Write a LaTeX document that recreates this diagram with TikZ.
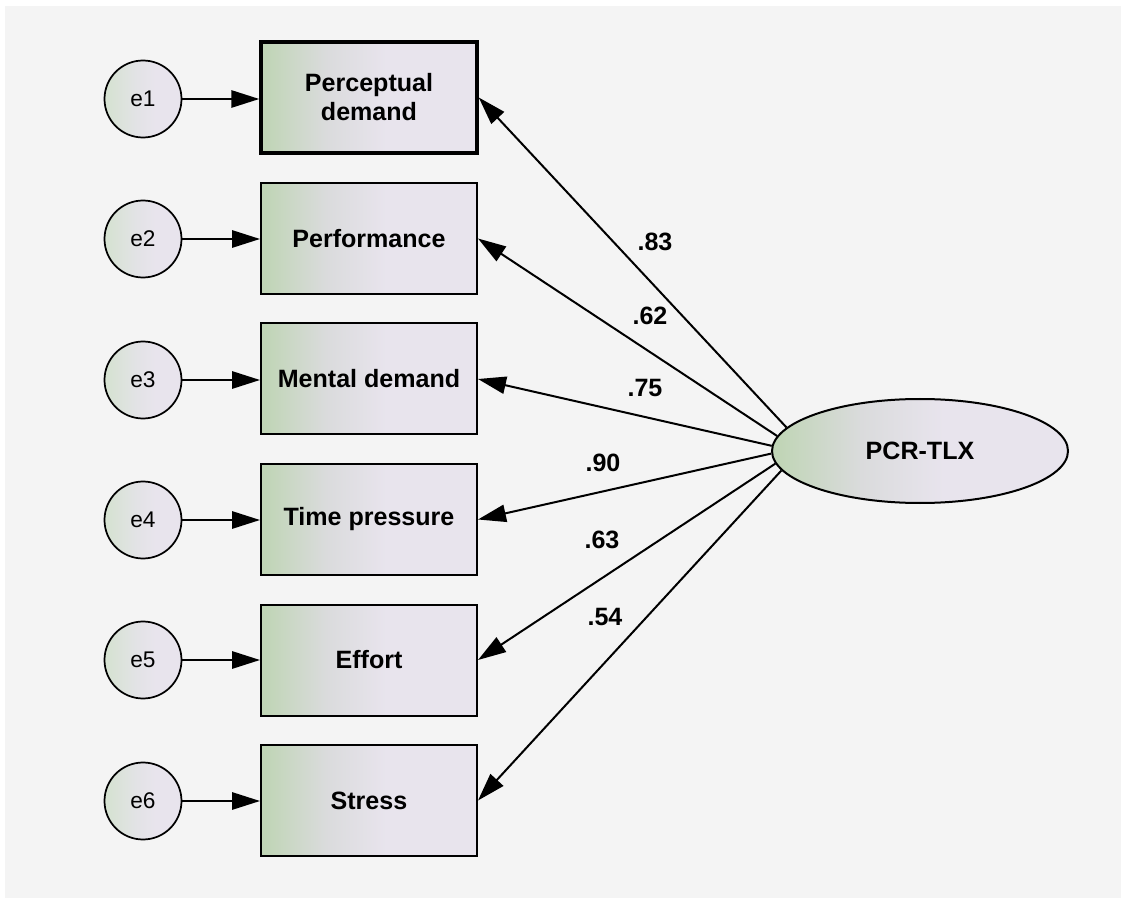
\documentclass[tikz,border=0pt]{standalone}
\usepackage{fontspec}
\setmainfont{Liberation Sans}
\usetikzlibrary{arrows.meta,shapes.geometric}
\definecolor{bgc}{RGB}{244,244,244}
\definecolor{gA}{RGB}{192,213,182}
\definecolor{gB}{RGB}{218,219,220}
\definecolor{gC}{RGB}{232,228,237}
\definecolor{cA}{RGB}{214,226,210}
\definecolor{cB}{RGB}{226,227,229}
\pgfdeclarehorizontalshading{semshade}{100bp}{color(0bp)=(gA); color(26bp)=(gA); color(40bp)=(gB); color(54bp)=(gC); color(100bp)=(gC)}
\pgfdeclarehorizontalshading{circshade}{100bp}{color(0bp)=(cA); color(27bp)=(cA); color(45bp)=(cB); color(58bp)=(gC); color(100bp)=(gC)}
\tikzset{
  obs/.style={draw=black, line width=1.5pt, shading=semshade,
    minimum width=162pt, minimum height=83.25pt, inner sep=0pt, align=center,
    font=\bfseries\fontsize{18.8}{21.75}\selectfont},
  err/.style={circle, draw=black, line width=1.3pt, shading=circshade,
    minimum size=57.75pt, inner sep=0pt, font=\fontsize{17}{19}\selectfont},
  lat/.style={ellipse, draw=black, line width=1.5pt, shading=semshade,
    minimum width=222pt, minimum height=78pt, inner sep=0pt,
    font=\bfseries\fontsize{18.8}{21.75}\selectfont},
  arr/.style={line width=1.5pt, -{Triangle[length=21pt,width=13pt]}},
  lbl/.style={font=\bfseries\fontsize{18.8}{21.75}\selectfont, inner sep=0pt}
}
\begin{document}
\begin{tikzpicture}[x=0.75pt,y=-0.75pt]
\useasboundingbox (0,0) rectangle (1121,898);
\fill[bgc] (5,6) rectangle (1121,898);
% observed
\node[obs, line width=2.6pt] (p1) at (369,97.5) {Perceptual\\demand};
\node[obs] (p2) at (369,238.5) {Performance};
\node[obs] (p3) at (369,379) {Mental demand};
\node[obs] (p4) at (369,519.5) {Time pressure};
\node[obs] (p5) at (369,660) {Effort};
\node[obs] (p6) at (369,800.5) {Stress};
% errors
\node[err] (e1) at (143,99) {e1};
\node[err] (e2) at (143,239) {e2};
\node[err] (e3) at (143,380) {e3};
\node[err] (e4) at (143,520) {e4};
\node[err] (e5) at (143,660) {e5};
\node[err] (e6) at (143,801) {e6};
% latent
\node[lat] (pcr) at (920,451) {PCR-TLX};
% error arrows
\foreach \i in {1,...,6} {
  \draw[arr] (e\i.east) -- (p\i.west |- e\i.east);
}
% loadings
\draw[arr] (pcr.170.4) -- (p1.east);
\draw[arr] (pcr.174.1) -- (p2.east);
\draw[arr] (pcr.178) -- (p3.east);
\draw[arr] (pcr.181.2) -- (p4.east);
\draw[arr] (pcr.185.1) -- (p5.east);
\draw[arr] (pcr.188.8) -- (p6.east);
% labels
\node[lbl] (l1) at (655,242) {.83};
\node[lbl] (l2) at (650,316) {.62};
\node[lbl] (l3) at (645,388) {.75};
\node[lbl] (l4) at (603,463) {.90};
\node[lbl] (l5) at (602,540) {.63};
\node[lbl] (l6) at (605,617) {.54};
\end{tikzpicture}
\end{document}
